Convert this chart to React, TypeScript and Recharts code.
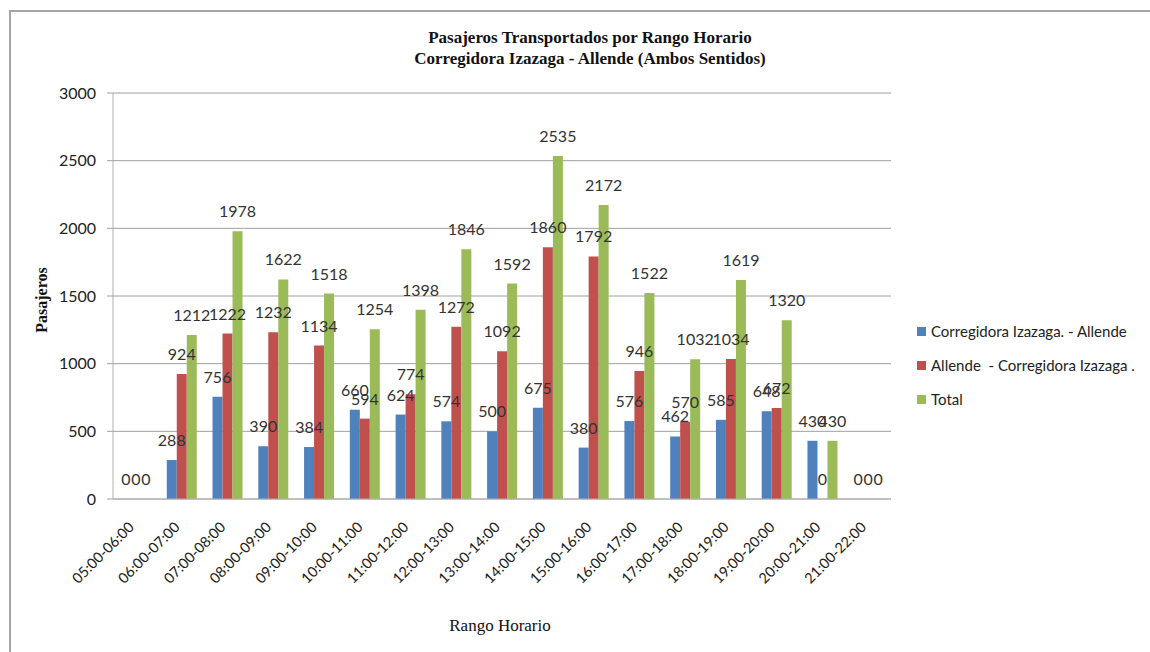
import { BarChart, Bar, XAxis, YAxis, CartesianGrid, LabelList } from 'recharts';

const categories = [
  '05:00-06:00', '06:00-07:00', '07:00-08:00', '08:00-09:00', '09:00-10:00',
  '10:00-11:00', '11:00-12:00', '12:00-13:00', '13:00-14:00', '14:00-15:00',
  '15:00-16:00', '16:00-17:00', '17:00-18:00', '18:00-19:00', '19:00-20:00',
  '20:00-21:00', '21:00-22:00',
];
const corregidoraAllende = [0, 288, 756, 390, 384, 660, 624, 574, 500, 675, 380, 576, 462, 585, 648, 430, 0];
const allendeCorregidora = [0, 924, 1222, 1232, 1134, 594, 774, 1272, 1092, 1860, 1792, 946, 570, 1034, 672, 0, 0];
const totals = [0, 1212, 1978, 1622, 1518, 1254, 1398, 1846, 1592, 2535, 2172, 1522, 1032, 1619, 1320, 430, 0];
const yTicks = [0, 500, 1000, 1500, 2000, 2500, 3000];

const seriesNames = ['Corregidora Izazaga. - Allende', 'Allende  - Corregidora Izazaga .', 'Total'];
const seriesColors = ['#4F81BD', '#C0504D', '#9BBB59'];

const data = categories.map((name, i) => ({
  name,
  ca: corregidoraAllende[i],
  ac: allendeCorregidora[i],
  total: totals[i],
}));

const sans = 'Lato, "Noto Sans", sans-serif';
const serif = '"Liberation Serif", "DejaVu Serif", serif';

const RotatedTick = (props: any) => {
  const { x, y, payload } = props;
  return (
    <text
      x={0}
      y={0}
      textAnchor="end"
      transform={`translate(${x - 1}, ${y + 21}) rotate(-45)`}
      fill="#222"
      fontSize={14.5}
      fontFamily={sans}
    >
      {payload.value}
    </text>
  );
};

// draws the value above the bar, zeros included
const ValueLabel = (props: any) => {
  const { x, y, width, value } = props;
  return (
    <text
      x={Number(x) + Number(width) / 2}
      y={Number(y) - 14}
      textAnchor="middle"
      fontSize={16}
      fill="#333"
      fontFamily={sans}
    >
      {value}
    </text>
  );
};

// tiny size so zero-value bars still exist and get their "0" label
const zeroSize = (v: any) => (Number(v) === 0 ? 0.01 : 0);

const App = () => {
  return (
    <div style={{ position: 'absolute', left: 0, top: 0, width: 1150, height: 652, background: '#fff' }}>
      <div
        style={{
          position: 'absolute', left: 9, top: 10, width: 1141, height: 642,
          borderTop: '2px solid #a6a6a6', borderLeft: '2px solid #a6a6a6',
        }}
      />
      <div
        style={{
          position: 'absolute', left: 290, top: 27, width: 600, textAlign: 'center',
          fontFamily: serif, fontWeight: 'bold', fontSize: 17, lineHeight: '21px', color: '#111',
        }}
      >
        <div>Pasajeros Transportados por Rango Horario</div>
        <div>Corregidora Izazaga - Allende (Ambos Sentidos)</div>
      </div>
      <div
        style={{
          position: 'absolute', left: 42, top: 300, transform: 'translate(-50%, -50%) rotate(-90deg)',
          fontFamily: serif, fontWeight: 'bold', fontSize: 16, color: '#111', whiteSpace: 'nowrap',
        }}
      >
        Pasajeros
      </div>
      <div
        style={{
          position: 'absolute', left: 500, top: 626, transform: 'translate(-50%, -50%)',
          fontFamily: serif, fontSize: 17, color: '#111', whiteSpace: 'nowrap',
        }}
      >
        Rango Horario
      </div>
      <div style={{ position: 'absolute', left: 917, top: 322, fontFamily: sans, fontSize: 15, color: '#222' }}>
        {seriesNames.map((n, i) => (
          <div key={n} style={{ display: 'flex', alignItems: 'center', height: 18, marginBottom: i < 2 ? 16 : 0, whiteSpace: 'pre' }}>
            <span style={{ width: 9, height: 9, background: seriesColors[i], marginRight: 5, display: 'inline-block' }} />
            {n}
          </div>
        ))}
      </div>
      <div style={{ position: 'absolute', left: 0, top: 0 }}>
        <BarChart
          width={1150}
          height={652}
          data={data}
          margin={{ top: 93, right: 259, left: 0, bottom: 53 }}
          barGap={0}
        >
          <CartesianGrid vertical={false} stroke="#a0a0a0" />
          <XAxis
            dataKey="name"
            height={100}
            interval={0}
            tick={<RotatedTick />}
            tickLine={false}
            axisLine={{ stroke: '#b0b0b0' }}
          />
          <YAxis
            width={113}
            domain={[0, 3000]}
            ticks={yTicks}
            tickSize={6}
            tickMargin={11}
            tick={{ fill: '#222', fontSize: 16, fontFamily: sans }}
            tickLine={{ stroke: '#a0a0a0' }}
            axisLine={{ stroke: '#b0b0b0' }}
          />
          <Bar dataKey="ca" name={seriesNames[0]} fill={seriesColors[0]} barSize={10} minPointSize={zeroSize} isAnimationActive={false}>
            <LabelList dataKey="ca" content={<ValueLabel />} />
          </Bar>
          <Bar dataKey="ac" name={seriesNames[1]} fill={seriesColors[1]} barSize={10} minPointSize={zeroSize} isAnimationActive={false}>
            <LabelList dataKey="ac" content={<ValueLabel />} />
          </Bar>
          <Bar dataKey="total" name={seriesNames[2]} fill={seriesColors[2]} barSize={10} minPointSize={zeroSize} isAnimationActive={false}>
            <LabelList dataKey="total" content={<ValueLabel />} />
          </Bar>
        </BarChart>
      </div>
    </div>
  );
};

export default App;
